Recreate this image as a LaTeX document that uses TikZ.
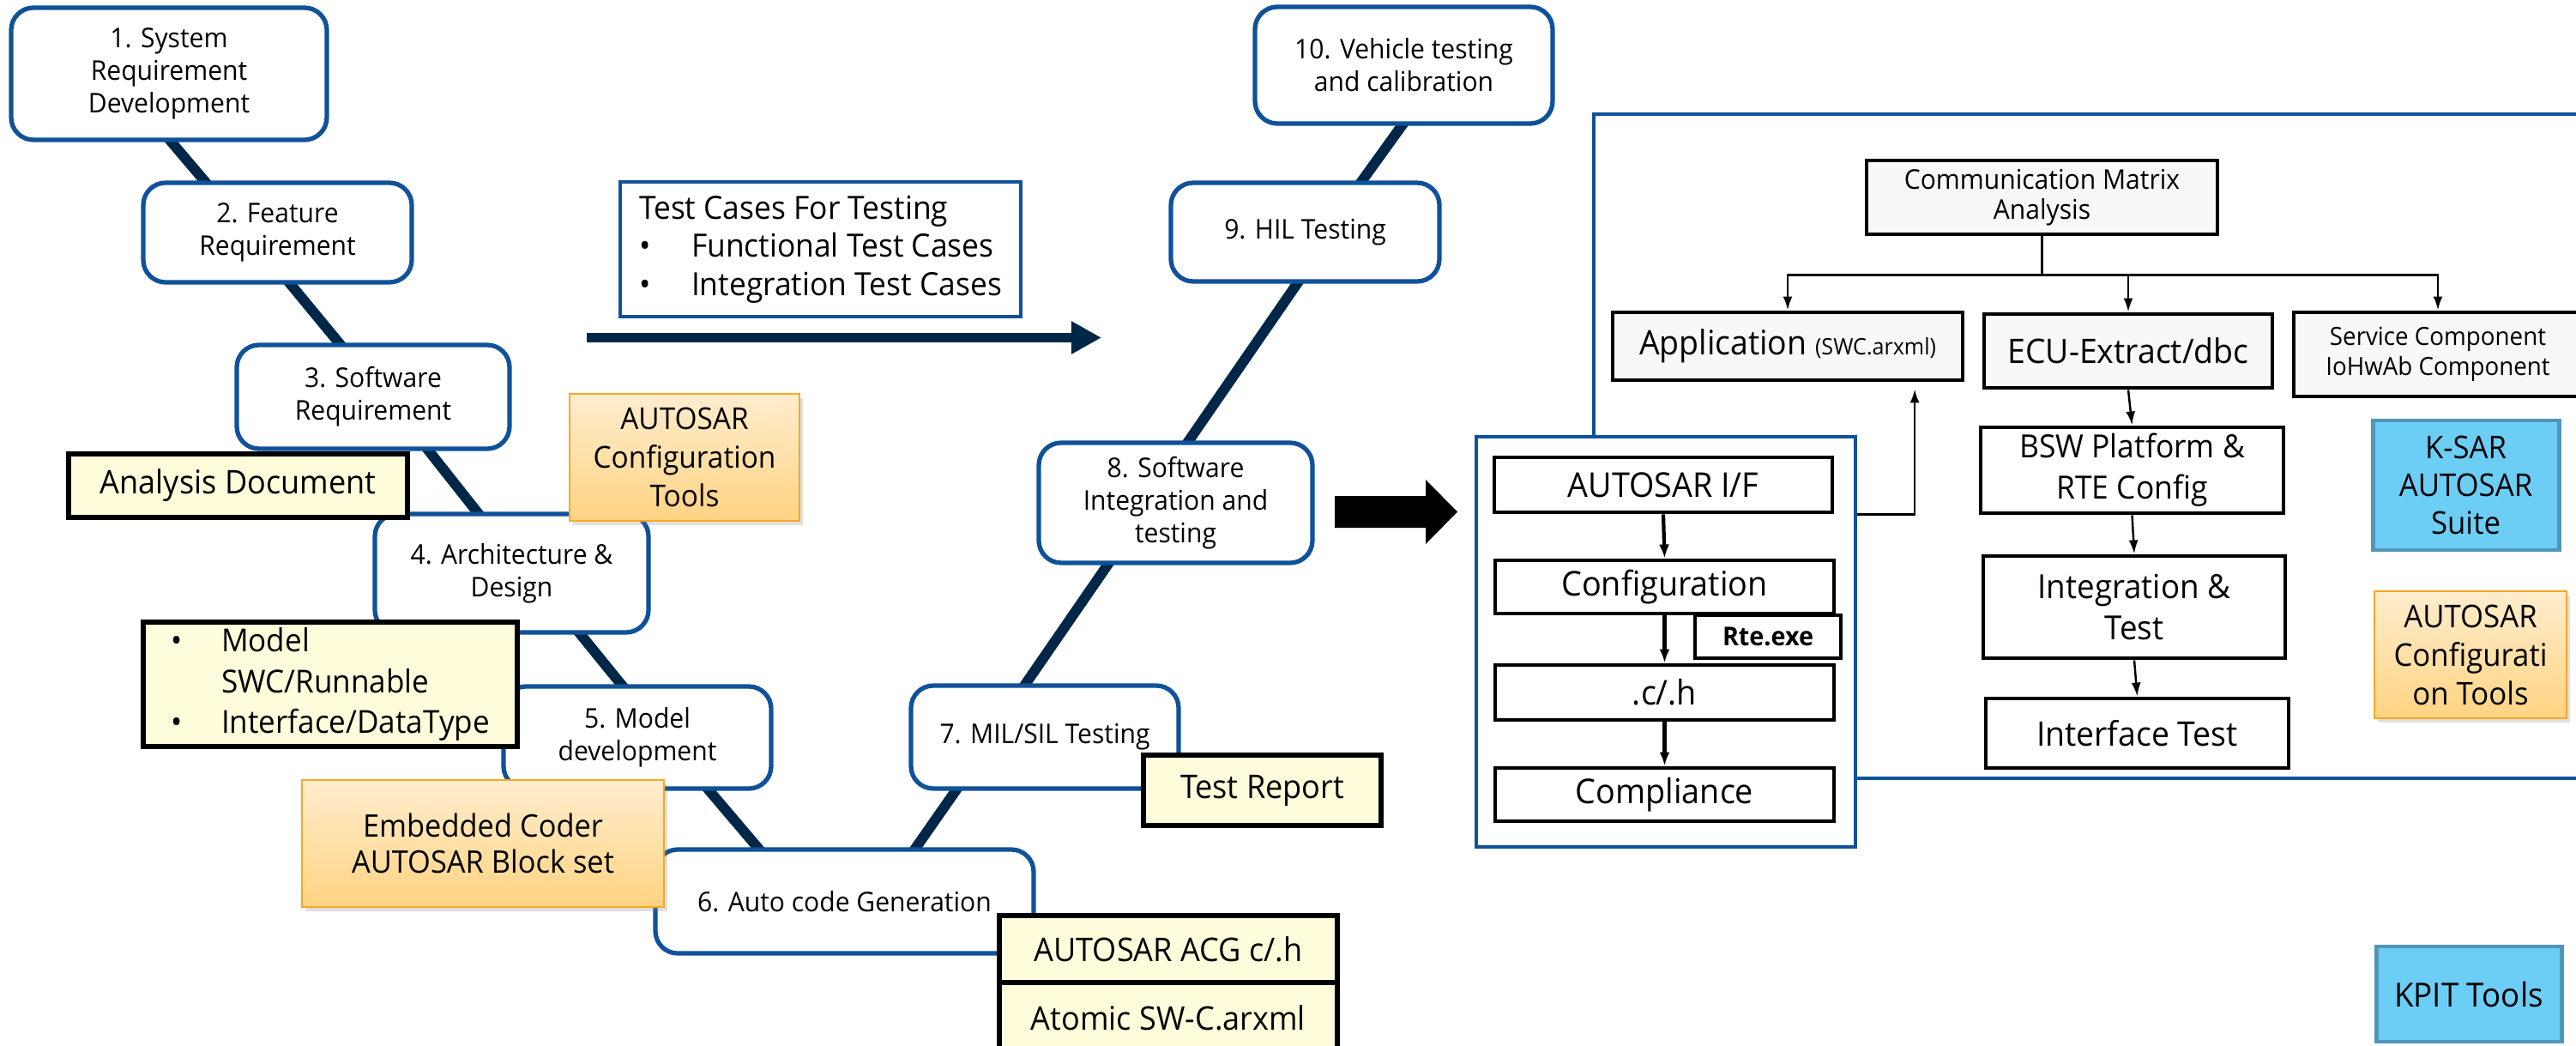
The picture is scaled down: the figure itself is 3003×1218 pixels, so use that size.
\documentclass[tikz,border=0pt]{standalone}
\usepackage{fontspec}
\setmainfont{Open Sans}[FakeStretch=0.95]
\usetikzlibrary{arrows.meta,backgrounds,shadows}
\definecolor{vblue}{RGB}{16,82,153}
\definecolor{navy}{RGB}{0,38,72}
\definecolor{ylw}{RGB}{255,252,219}
\definecolor{orT}{RGB}{255,237,206}
\definecolor{orB}{RGB}{255,211,130}
\definecolor{orD}{RGB}{247,168,36}
\definecolor{sky}{RGB}{108,205,245}
\definecolor{skyD}{RGB}{80,150,185}
\definecolor{gry}{RGB}{248,248,248}
\newcommand\fsz[2]{\fontsize{#1}{#2}\selectfont}
\newcommand\bx[7][]{\node[#2,minimum width={(#5-#3)*0.01cm},minimum height={(#6-#4)*0.01cm},#1] (#7) at ({(#3+#5)/2},{(#4+#6)/2})}
\tikzset{
  vbox/.style={draw=vblue,line width=1.5pt,rounded corners=2.6mm,fill=white,align=center,font=\fsz{9}{10.8},inner sep=0pt},
  tcbox/.style={draw=vblue,line width=1.2pt,fill=white,align=left,font=\fsz{10.6}{12.6},inner sep=0pt},
  ybox/.style={draw=black,line width=1.7pt,fill=ylw,align=center,inner sep=0pt,font=\fsz{10.8}{13}},
  obox/.style={draw=orD,line width=0.8pt,top color=orT,bottom color=orB,align=center,inner sep=0pt,
     drop shadow={opacity=0.25,shadow xshift=0.04cm,shadow yshift=-0.05cm}},
  kbox/.style={draw=black,line width=1.4pt,fill=gry,align=center,inner sep=0pt},
  wbox/.style={kbox,fill=white},
  sbox/.style={draw=skyD,line width=1.4pt,fill=sky,align=center,inner sep=0pt},
  ibox/.style={draw=vblue,line width=1.4pt,inner sep=0pt},
  vline/.style={navy,line width=3.4pt,shorten <=-3pt,shorten >=-3pt},
  tarr/.style={line width=0.7pt,-{Latex[length=1.6mm,width=1.1mm]}},
  carr/.style={line width=1.2pt,-{Latex[length=1.6mm,width=1.2mm]}},
  framel/.style={vblue,line width=1.4pt},
}
\begin{document}
\begin{tikzpicture}[x=0.01cm,y=-0.01cm]
\useasboundingbox (0,0) rectangle (3003,1218);

% V-model boxes
\bx{vbox}{13}{9}{381}{163}{b1} {1. System\\Requirement\\Development};
\bx{vbox}{167}{213}{480}{329}{b2} {2. Feature\\Requirement};
\bx{vbox}{276}{402}{594}{523}{b3} {3. Software\\Requirement};
\bx{vbox}{437}{599}{756}{737}{b4} {4. Architecture \&\\Design};
\bx{vbox}{587}{800}{899}{919}{b5} {5. Model\\development};
\bx{vbox}{764}{990}{1205}{1111}{b6} {6. Auto code Generation};
\bx{vbox}{1062}{799}{1374}{919}{b7} {7. MIL/SIL Testing};
\bx{vbox}{1211}{516}{1530}{656}{b8} {8. Software\\Integration and\\testing};
\bx{vbox}{1365}{213}{1678}{328}{b9} {9. HIL Testing};
\bx{vbox}{1463}{8}{1810}{144}{b10} {10. Vehicle testing\\and calibration};

\begin{pgfonlayer}{background}
\fill[white] (0,0) rectangle (3003,1218);
\draw[vline] ([xshift=0.03cm]b1.south) -- ([xshift=-0.855cm]b2.north);
\draw[vline] ([xshift=0.155cm]b2.south) -- ([xshift=-0.40cm]b3.north);
\draw[vline] ([xshift=0.65cm]b3.south) -- ([xshift=-0.405cm]b4.north);
\draw[vline] ([xshift=0.805cm]b4.south) -- ([xshift=-0.19cm]b5.north);
\draw[vline] ([xshift=0.84cm]b5.south) -- ([xshift=-1.015cm]b6.north);
\draw[vline] ([xshift=0.835cm]b6.north) -- ([xshift=-1.04cm]b7.south);
\draw[vline] ([xshift=-0.22cm]b7.north) -- ([xshift=-0.795cm]b8.south);
\draw[vline] ([xshift=0.155cm]b8.north) -- ([xshift=-0.095cm]b9.south);
\draw[vline] ([xshift=0.665cm]b9.north) -- ([xshift=-0.025cm]b10.south);
\end{pgfonlayer}

% artefact boxes
\bx{ybox}{80}{529}{475}{603}{anal} {Analysis Document};
\bx[font=\fsz{10}{12.7}]{obox}{664}{459}{932}{607}{cfgL} {AUTOSAR\\Configuration\\Tools};
\bx[align=left,font=\fsz{10.5}{13.6}]{ybox}{167}{725}{603}{870}{model}
  {\makebox[5.9mm][l]{\textbullet}Model\\\hspace*{5.9mm}SWC/Runnable\\\makebox[5.9mm][l]{\textbullet}Interface/DataType};
\bx[font=\fsz{10.3}{12}]{obox}{352}{909}{774}{1057}{emb} {Embedded Coder\\AUTOSAR Block set};
\bx{ybox}{1165}{1067}{1559}{1145}{acg} {AUTOSAR ACG c/.h};
\bx{ybox}{1165}{1145}{1559}{1228}{atom} {Atomic SW-C.arxml};
\bx{ybox}{1333}{880}{1610}{962}{trep} {Test Report};

% test cases
\bx{tcbox}{723}{212}{1190}{369}{tc}
  {Test Cases For Testing\\\makebox[6.1mm][l]{\textbullet}Functional Test Cases\\\makebox[6.1mm][l]{\textbullet}Integration Test Cases};
\coordinate (tcA) at (684,393.5);
\coordinate (tcB) at (1284,393.5);
\draw[navy,line width=1.1mm,-{Triangle[length=3.5mm,width=3.6mm]}] (tcA) -- (tcB);

% black block arrow
\fill[black] (1556,578) -- (1662,578) -- (1662,559) -- (1699,596.5) -- (1662,634) -- (1662,615) -- (1556,615) -- cycle;

% right part
\bx{ibox}{1721}{509}{2163}{987}{inner} {};
\coordinate (fr1) at (3010,133);
\coordinate (fr2) at (1858,133);
\coordinate (fr3) at (3010,907);
\draw[framel] (fr1) -- (fr2) -- (fr2 |- inner.north);
\draw[framel] (fr3 -| inner.east) -- (fr3);

\bx[font=\fsz{9}{10}]{kbox}{2176}{187}{2585}{273}{comm} {Communication Matrix\\Analysis};
\bx[font=\fsz{11.2}{13}]{kbox}{1880}{364}{2288}{443}{app} {Application {\fsz{7.5}{9}(SWC.arxml)}};
\bx[font=\fsz{11.2}{13}]{kbox}{2313}{366}{2649}{452}{ecu} {ECU-Extract/dbc};
\bx[font=\fsz{8.3}{10}]{kbox}{2674}{364}{3010}{462}{svc} {Service Component\\IoHwAb Component};
\bx[font=\fsz{10.6}{13.6}]{wbox}{2309}{498}{2662}{598}{bsw} {BSW Platform \&\\RTE Config};
\bx[font=\fsz{11}{13.6}]{wbox}{2312}{648}{2664}{767}{integ} {Integration \&\\Test};
\bx[font=\fsz{11.2}{13}]{wbox}{2315}{814}{2668}{895}{itest} {Interface Test};
\bx[font=\fsz{10.4}{12.6}]{sbox}{2766}{490}{2983}{641}{ksar} {K-SAR\\AUTOSAR\\Suite};
\bx[font=\fsz{10.4}{12.8}]{obox}{2768}{689}{2992}{837}{cfgR} {AUTOSAR\\Configurati\\on Tools};
\bx[font=\fsz{11}{13}]{sbox}{2770}{1103}{2986}{1214}{kpit} {KPIT Tools};

\bx[font=\fsz{11.3}{13}]{wbox}{1742}{533}{2136}{597}{aif} {AUTOSAR I/F};
\bx[font=\fsz{11.3}{13}]{wbox}{1743}{653}{2138}{715}{conf} {Configuration};
\bx[font=\bfseries\fsz{8.6}{10}]{wbox}{1976}{717}{2146}{767}{rte} {Rte.exe};
\bx[font=\fsz{11.3}{13}]{wbox}{1743}{775}{2138}{839}{ch} {.c/.h};
\bx[font=\fsz{11.3}{13}]{wbox}{1743}{895}{2138}{957}{compl} {Compliance};

% connectors right
\coordinate (br) at ([yshift=-0.45cm]comm.south);
\draw[line width=0.7pt] (comm.south) -- (br);
\draw[tarr] (br) -| (app.north);
\draw[tarr] (br) -| (svc.north);
\draw[tarr] (ecu.north |- br) -- (ecu.north);
\draw[tarr] (ecu.south) -- (bsw.north);
\draw[tarr] (bsw.south) -- (integ.north);
\draw[tarr] (integ.south) -- (itest.north);
\draw[carr] (aif.south) -- (conf.north);
\draw[carr] (conf.south) -- (ch.north);
\draw[carr] (ch.south) -- (compl.north);
\draw[tarr] (aif.south -| inner.east) -| ([xshift=1.48cm,yshift=-0.08cm]app.south);
\end{tikzpicture}
\end{document}
